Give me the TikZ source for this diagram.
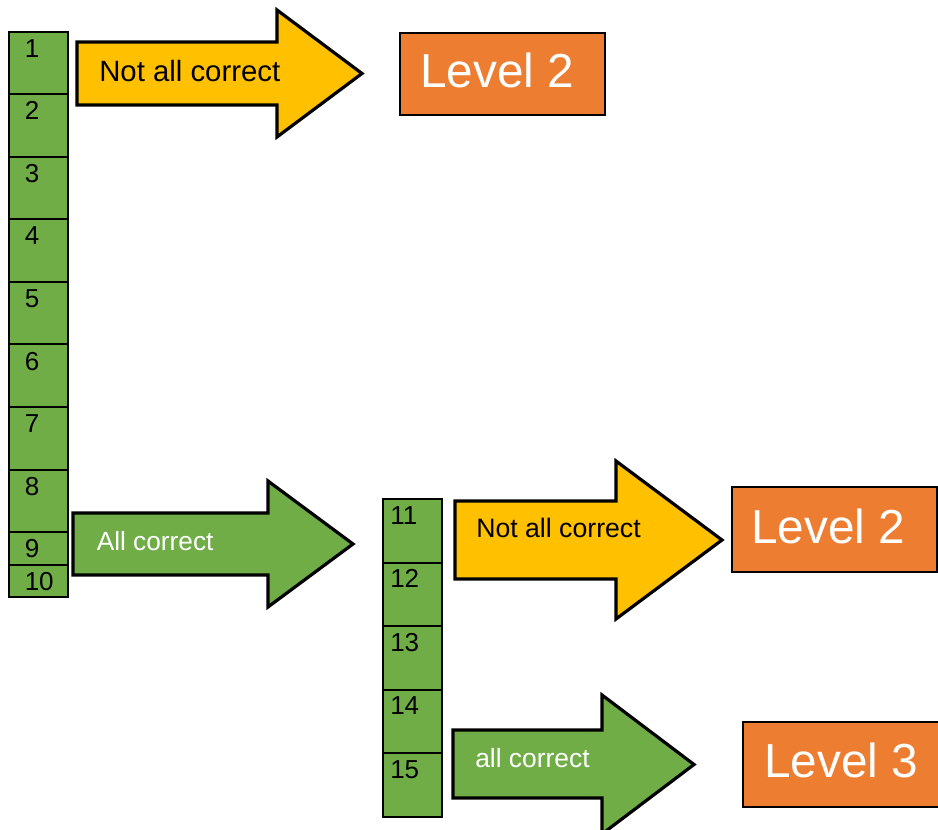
\documentclass[tikz,border=0pt]{standalone}
\usepackage{fontspec}
\setmainfont{Liberation Sans}
\definecolor{cgreen}{HTML}{70AD47}
\definecolor{cyellow}{HTML}{FFC000}
\definecolor{corange}{HTML}{ED7D31}
\begin{document}
\begin{tikzpicture}[x=0.75pt,y=-0.75pt,
  cellbox/.style={draw=black,fill=cgreen,line width=1.5pt},
  numtext/.style={anchor=base west,inner sep=0pt,font=\fontsize{19.5}{19.5}\selectfont},
  yarrow/.style={draw=black,fill=cyellow,line width=2.4pt,line join=miter},
  garrow/.style={draw=black,fill=cgreen,line width=2.4pt,line join=miter},
  levelbox/.style={draw=black,fill=corange,line width=1.6pt},
  leveltext/.style={anchor=base west,inner sep=0pt,text=white,font=\fontsize{35.8}{35.8}\selectfont},
  arrowtext/.style={anchor=base west,inner sep=0pt}]
\useasboundingbox (0,0) rectangle (938,830);
\clip (0,0) rectangle (938,830);
% left column
\foreach \i/\t/\b in {1/32/94.5,2/94.5/157,3/157/219.5,4/219.5/282,5/282/344.5,6/344.5/407,7/407/469.5,8/469.5/532,9/532/565,10/565/597}{
  \draw[cellbox] (9,\t) rectangle (68,\b);
  \node[numtext] (n\i) at (24.5,\t+25.5) {\i};
}
% second column
\foreach \i/\t/\b in {11/499/562.5,12/562.5/626,13/626/689.5,14/689.5/753,15/753/816.5}{
  \draw[cellbox] (383,\t) rectangle (442,\b);
  \node[numtext] (n\i) at (390,\t+25) {\i};
}
% arrows
\draw[yarrow] (77,42) -- (277,42) -- (277,10) -- (362,73.5) -- (277,137) -- (277,105) -- (77,105) -- cycle;
\node[arrowtext,font=\fontsize{22}{22}\selectfont] (t1) at (99,82) {Not all correct};
\draw[garrow] (73,513) -- (268,513) -- (268,481) -- (353,544) -- (268,607) -- (268,575) -- (73,575) -- cycle;
\node[arrowtext,text=white,font=\fontsize{19.7}{19.7}\selectfont] (t2) at (96.5,550) {All correct};
\draw[yarrow] (455,501) -- (616,501) -- (616,461) -- (722,540) -- (616,619) -- (616,579) -- (455,579) -- cycle;
\node[arrowtext,font=\fontsize{20}{20}\selectfont] (t3) at (476,537) {Not all correct};
\draw[garrow] (453,730) -- (602,730) -- (602,695) -- (694,764.5) -- (602,834) -- (602,798) -- (453,798) -- cycle;
\node[arrowtext,text=white,font=\fontsize{19.8}{19.8}\selectfont] (t4) at (475,767) {all correct};
% level boxes
\draw[levelbox] (400,33) rectangle (605,115);
\node[leveltext] (l1) at (420,88) {Level 2};
\draw[levelbox] (732,487) rectangle (937,572);
\node[leveltext] (l2) at (751,543) {Level 2};
\draw[levelbox] (743,722) rectangle (948,807);
\node[leveltext] (l3) at (764,777) {Level 3};
\end{tikzpicture}
\end{document}
